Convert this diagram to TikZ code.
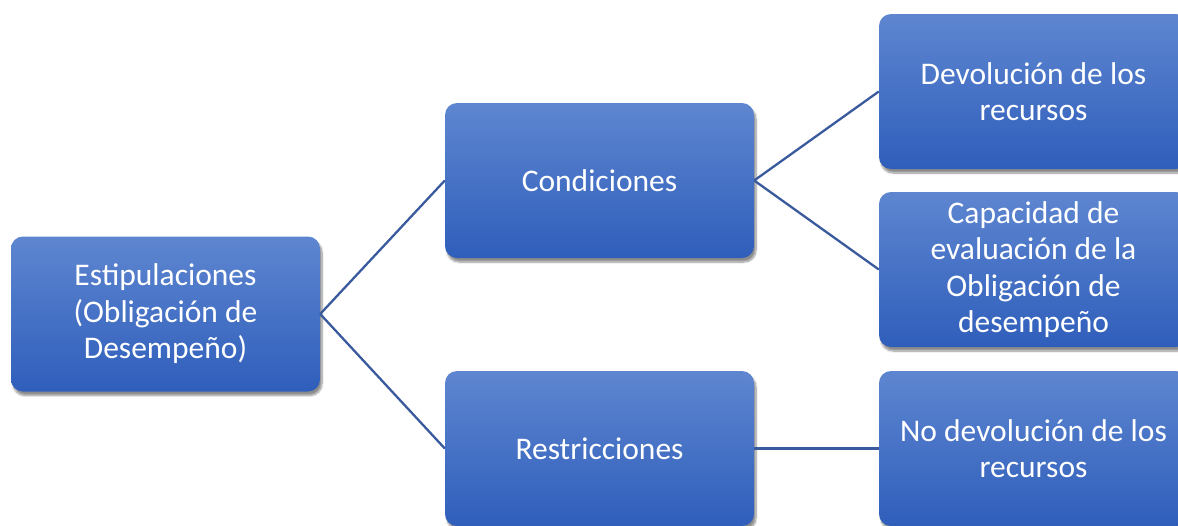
\documentclass[tikz,border=0pt]{standalone}
\usepackage{fontspec}
\setmainfont{Carlito}
\usetikzlibrary{shadows.blur}
\definecolor{boxtop}{HTML}{5E86D0}
\definecolor{boxbot}{HTML}{2F5EBB}
\definecolor{linkcol}{HTML}{3A5A9E}
\tikzset{
  box/.style={rectangle, rounded corners=12pt, minimum width=309pt, minimum height=155pt,
    top color=boxtop, bottom color=boxbot, draw=none, text=white, align=center,
    inner sep=0pt, font=\fontsize{31.5}{36.5}\selectfont,
    blur shadow={shadow xshift=2pt, shadow yshift=-4pt, shadow blur steps=8, shadow opacity=45}},
  link/.style={draw=linkcol, line width=2.3pt}
}
\begin{document}
\begin{tikzpicture}[x=1pt,y=-1pt]
\useasboundingbox (0,0) rectangle (1178,525);
\clip (0,0) rectangle (1178,525);
\node[box] (est) at (165.5,314) {Estipulaciones\\(Obligación de\\Desempeño)};
\node[box] (cond) at (599.5,180.5) {Condiciones};
\node[box] (rest) at (599.5,448.5) {Restricciones};
\node[box] (dev) at (1033.5,91.5) {Devolución de los\\recursos};
\node[box] (cap) at (1033.5,269.5) {Capacidad de\\evaluación de la\\Obligación de\\desempeño};
\node[box] (nodev) at (1033.5,448.5) {No devolución de los\\recursos};
\draw[link] (est.east) -- (cond.west);
\draw[link] (est.east) -- (rest.west);
\draw[link] (cond.east) -- (dev.west);
\draw[link] (cond.east) -- (cap.west);
\draw[link] (rest.east) -- (nodev.west);
\end{tikzpicture}
\end{document}
